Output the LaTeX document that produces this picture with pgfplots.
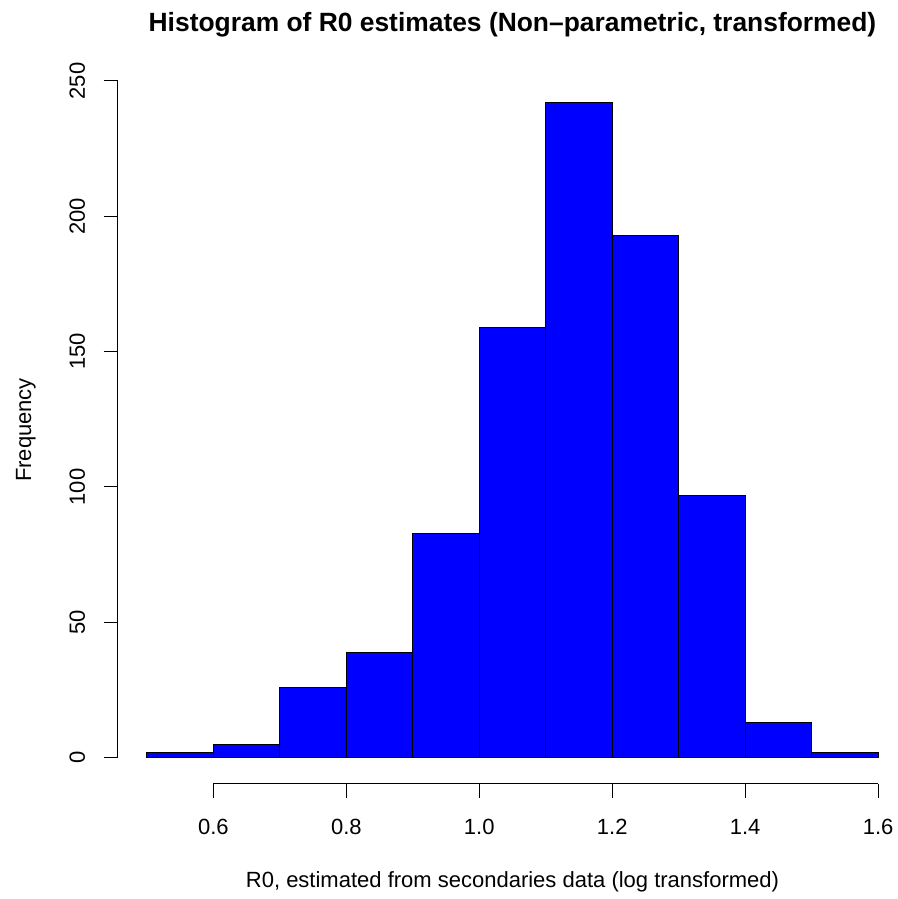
\documentclass[border=0pt]{standalone}
\usepackage{fontspec}
\setmainfont{Liberation Sans}
\usepackage{pgfplots}
\pgfplotsset{compat=1.18}
\begin{document}
\begin{tikzpicture}[x=0.5pt,y=0.5pt]
\begin{axis}[
  at={(58.85pt,57.55pt)}, anchor=south west,
  scale only axis, width=394.8pt, height=353.75pt,
  xmin=0.456, xmax=1.644, ymin=-9.68, ymax=251.68,
  axis lines*=left, axis line style={draw=none},
  clip=false,
  tick align=outside, major tick length=7pt,
  tick style={black, line width=0.5pt},
  minor tick num=0,
  xtick={0.6,0.8,1.0,1.2,1.4,1.6},
  xticklabels={0.6,0.8,1.0,1.2,1.4,1.6},
  ytick={0,50,100,150,200,250},
  yticklabels={0,50,100,150,200,250},
  ticklabel style={font=\fontsize{11}{13}\selectfont},
  xticklabel style={anchor=base, yshift=-18.15pt},
  yticklabel style={anchor=base, xshift=-9.35pt, rotate=90},
]
\addplot[ybar interval, fill=blue, draw=black, line width=0.5pt] coordinates {
(0.5,2) (0.6,5) (0.7,26) (0.8,39) (0.9,83) (1.0,159) (1.1,242) (1.2,193) (1.3,97) (1.4,13) (1.5,2) (1.6,2)
};
\draw[black, line width=0.5pt] (axis cs:0.6,-9.68) -- (axis cs:1.6,-9.68);
\draw[black, line width=0.5pt] (axis cs:0.456,0) -- (axis cs:0.456,250);
\end{axis}
\node[anchor=base, font=\fontsize{13.2}{15}\selectfont\bfseries] at (512.5,867.3) {Histogram of R0 estimates (Non\textendash parametric, transformed)};
\node[anchor=base, font=\fontsize{11}{13}\selectfont] at (512.5,11) {R0, estimated from secondaries data (log transformed)};
\node[anchor=base, rotate=90, font=\fontsize{11}{13}\selectfont] at (31,469) {Frequency};
\pgfresetboundingbox
\useasboundingbox (0,0) rectangle (898,899);
\end{tikzpicture}
\end{document}
